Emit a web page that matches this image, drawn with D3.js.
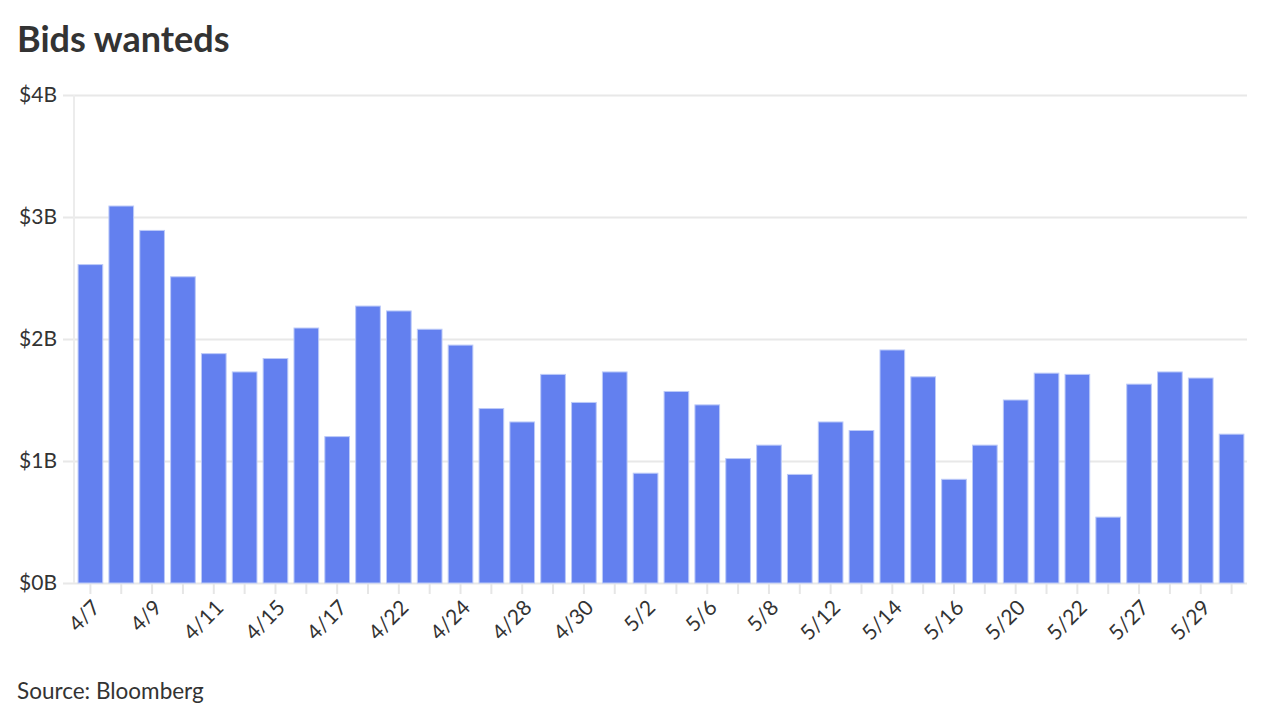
<!DOCTYPE html>
<html>
<head>
<meta charset="utf-8">
<script src="https://cdn.jsdelivr.net/npm/d3@7"></script>
<style>
	body { margin: 0; background: #fff; }
	svg text { font-family: Lato, "Open Sans", sans-serif; fill: #333; }
</style>
</head>
<body>
<svg id="chart" width="1280" height="720"></svg>
<script>
	// Bids wanted volume, $ billions
	const dates = ["4/7", "4/8", "4/9", "4/10", "4/11", "4/14", "4/15", "4/16", "4/17", "4/21",
		"4/22", "4/23", "4/24", "4/25", "4/28", "4/29", "4/30", "5/1", "5/2", "5/5",
		"5/6", "5/7", "5/8", "5/9", "5/12", "5/13", "5/14", "5/15", "5/16", "5/19",
		"5/20", "5/21", "5/22", "5/23", "5/27", "5/28", "5/29", "5/30"];
	const values = [2.61, 3.09, 2.89, 2.51, 1.88, 1.73, 1.84, 2.09, 1.20, 2.27,
		2.23, 2.08, 1.95, 1.43, 1.32, 1.71, 1.48, 1.73, 0.90, 1.57,
		1.46, 1.02, 1.13, 0.89, 1.32, 1.25, 1.91, 1.69, 0.85, 1.13,
		1.50, 1.72, 1.71, 0.54, 1.63, 1.73, 1.68, 1.22];
	const yTicks = [0, 1, 2, 3, 4];

	const svg = d3.select("#chart");
	const margin = {top: 95, right: 33, bottom: 137, left: 75};
	const width = 1280, height = 720;

	let x = d3.scaleBand()
		.domain(dates)
		.range([margin.left, width - margin.right])
		.paddingInner(0.2)
		.paddingOuter(0.1);

	let y = d3.scaleLinear()
		.domain([0, 4])
		.range([height - margin.bottom, margin.top]);

	// title
	svg.append("text")
		.attr("x", 17)
		.attr("y", 52)
		.attr("font-size", 36)
		.attr("font-weight", 700)
		.text("Bids wanteds");

	// gridlines + y labels
	const yAxis = svg.append("g")
		.attr("transform", `translate(${margin.left},0)`)
		.call(d3.axisLeft(y)
			.tickValues(yTicks)
			.tickSize(-(width - margin.right - margin.left))
			.tickPadding(18)
			.tickFormat(d => "$" + d + "B"));
	yAxis.select(".domain").remove();
	yAxis.selectAll(".tick line")
		.attr("x1", -12)
		.attr("stroke", "#e8e8e8")
		.attr("stroke-width", 2);
	yAxis.selectAll(".tick text")
		.attr("font-size", 21)
		.attr("fill", "#333");

	// left vertical line
	svg.append("line")
		.attr("x1", margin.left - 1).attr("x2", margin.left - 1)
		.attr("y1", y(4)).attr("y2", y(0))
		.attr("stroke", "#ececec")
		.attr("stroke-width", 2);

	// bars
	svg.append("g")
		.selectAll("rect")
		.data(values)
		.join("rect")
		.attr("x", (d, i) => x(dates[i]))
		.attr("y", d => y(d))
		.attr("width", x.bandwidth())
		.attr("height", d => y(0) - y(d))
		.attr("fill", "#6380ef")
		.attr("stroke", "#bccaf8")
		.attr("stroke-width", 1);

	// x axis
	const xAxis = svg.append("g")
		.attr("transform", `translate(0,${y(0) + 1})`)
		.call(d3.axisBottom(x)
			.tickSize(10)
			.tickFormat((d, i) => i % 2 === 0 ? d : ""));
	xAxis.select(".domain").remove();
	xAxis.selectAll(".tick line")
		.attr("stroke", "#e6e6e6")
		.attr("stroke-width", 2);
	xAxis.selectAll(".tick text")
		.attr("font-size", 21)
		.attr("fill", "#383838")
		.attr("text-anchor", "end")
		.attr("x", 0)
		.attr("y", 0)
		.attr("dy", 0)
		.attr("transform", "translate(11,25) rotate(-45)");

	// source
	svg.append("text")
		.attr("x", 17)
		.attr("y", 699)
		.attr("font-size", 22.5)
		.text("Source: Bloomberg");
</script>
</body>
</html>
